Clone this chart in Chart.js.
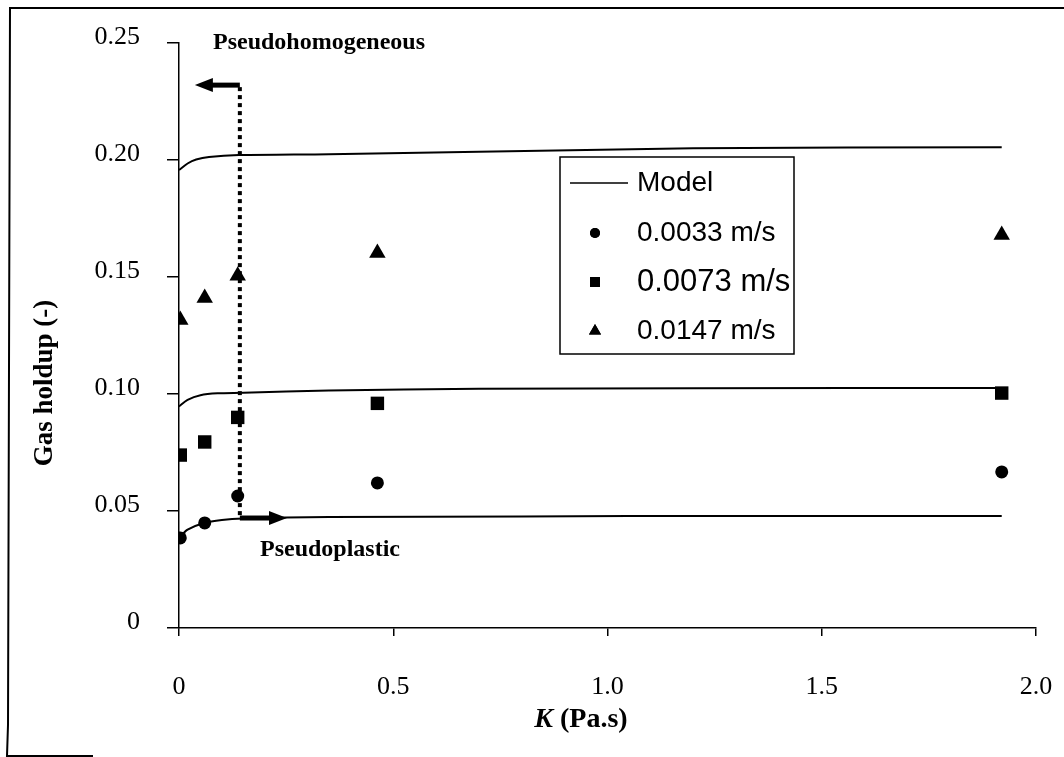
<!DOCTYPE html>
<html>
<head>
<meta charset="utf-8">
<script src="https://cdn.jsdelivr.net/npm/chart.js@4.4.1/dist/chart.umd.min.js"></script>
<style>
    html, body { margin: 0; padding: 0; background: #fff; }
    #wrap { width: 1064px; height: 757px; }
</style>
</head>
<body>
<div id="wrap"><canvas id="chart" width="1064" height="757"></canvas></div>
<script>
// Tick labels
const xTickLabels = ['0', '0.5', '1.0', '1.5', '2.0'];
const yTickLabels = ['0', '0.05', '0.10', '0.15', '0.20', '0.25'];

// Measured points (K in Pa.s, gas holdup)
const kMeasured = [0.003, 0.06, 0.137, 0.463, 1.92];
const holdup0033 = [0.0385, 0.0449, 0.0564, 0.0620, 0.0667];
const holdup0073 = [0.0739, 0.0795, 0.0900, 0.0960, 0.1004];
const holdup0147 = [0.1316, 0.1410, 0.1505, 0.1603, 0.1680];

// Model curves
const kModelLow = [0, 0.02, 0.058, 0.1, 0.15, 0.35, 0.8, 1.3, 1.92];
const modelLow = [0.0385, 0.0420, 0.0449, 0.0462, 0.0468, 0.0474, 0.0477, 0.0479, 0.0479];
const kModelMid = [0, 0.02, 0.05, 0.09, 0.15, 0.35, 0.7, 1.2, 1.92];
const modelMid = [0.0947, 0.0975, 0.0995, 0.1003, 0.1005, 0.1015, 0.1022, 0.1025, 0.1026];
const kModelHigh = [0, 0.02, 0.04, 0.07, 0.14, 0.35, 0.7, 1.2, 1.92];
const modelHigh = [0.1957, 0.1985, 0.2002, 0.2013, 0.2021, 0.2025, 0.2035, 0.2050, 0.2055];

// Regime boundary annotation (data units)
const boundaryK = 0.142;
const boundaryTop = 0.232;
const boundaryBottom = 0.047;
const homogArrowTipK = 0.037;
const plasticArrowTipK = 0.252;

const legendLabels = ['Model', '0.0033 m/s', '0.0073 m/s', '0.0147 m/s'];

const serif = "'Liberation Serif', 'Times New Roman', serif";
const sans = "'Liberation Sans', Arial, sans-serif";

const toXY = (xs, ys) => xs.map((x, i) => ({ x: x, y: ys[i] }));

function modelSet(xs, ys) {
    return {
        label: 'Model', type: 'line', data: toXY(xs, ys),
        borderColor: '#000', borderWidth: 2, pointRadius: 0,
        tension: 0.3, fill: false
    };
}

function pointSet(label, ys, style, radius) {
    return {
        label: label, type: 'scatter', data: toXY(kMeasured, ys),
        pointStyle: style, pointRadius: radius, pointHoverRadius: radius,
        backgroundColor: '#000', borderColor: '#000', borderWidth: 0,
        showLine: false
    };
}

// Frame, annotations, axis titles, legend
const extrasPlugin = {
    id: 'extras',
    beforeDraw(chart) {
        const ctx = chart.ctx;
        ctx.save();
        ctx.fillStyle = '#fff';
        ctx.fillRect(0, 0, chart.width, chart.height);
        ctx.strokeStyle = '#000';
        ctx.lineWidth = 2;
        ctx.beginPath();
        ctx.moveTo(1064, 8);
        ctx.lineTo(10, 8);
        ctx.lineTo(8, 725);
        ctx.lineTo(7, 756);
        ctx.lineTo(93, 756);
        ctx.stroke();
        ctx.restore();
    },
    beforeDatasetsDraw(chart) {
        const ctx = chart.ctx;
        const xs = chart.scales.x, ys = chart.scales.y;
        const bx = xs.getPixelForValue(boundaryK);
        const topY = ys.getPixelForValue(boundaryTop);
        const botY = ys.getPixelForValue(boundaryBottom);
        ctx.save();
        ctx.strokeStyle = '#000';
        ctx.fillStyle = '#000';
        // dotted boundary
        ctx.lineWidth = 4;
        ctx.setLineDash([4, 4]);
        ctx.beginPath();
        ctx.moveTo(bx, topY + 2);
        ctx.lineTo(bx, botY);
        ctx.stroke();
        ctx.setLineDash([]);
        // arrows
        function arrow(x0, y, x1) {
            const dir = Math.sign(x1 - x0);
            const headLen = 18;
            ctx.lineWidth = 5;
            ctx.beginPath();
            ctx.moveTo(x0, y);
            ctx.lineTo(x1 - dir * headLen + dir * 2, y);
            ctx.stroke();
            ctx.beginPath();
            ctx.moveTo(x1, y);
            ctx.lineTo(x1 - dir * headLen, y - 7);
            ctx.lineTo(x1 - dir * headLen, y + 7);
            ctx.closePath();
            ctx.fill();
        }
        arrow(bx, topY, xs.getPixelForValue(homogArrowTipK));
        arrow(bx, botY, xs.getPixelForValue(plasticArrowTipK));

        // region labels
        ctx.font = 'bold 24px ' + serif;
        ctx.textBaseline = 'alphabetic';
        ctx.textAlign = 'left';
        ctx.fillText('Pseudohomogeneous', 213, 49);
        ctx.fillText('Pseudoplastic', 260, 556);
        ctx.restore();
    },
    afterDraw(chart) {
        const ctx = chart.ctx;
        ctx.save();
        ctx.fillStyle = '#000';
        ctx.strokeStyle = '#000';

        // y title
        ctx.font = 'bold 27px ' + serif;
        ctx.textAlign = 'center';
        ctx.textBaseline = 'middle';
        ctx.translate(45, 383);
        ctx.rotate(-Math.PI / 2);
        ctx.fillText('Gas holdup (-)', 0, 0);
        ctx.setTransform(1, 0, 0, 1, 0, 0);

        // x title: italic K + (Pa.s)
        ctx.textAlign = 'left';
        ctx.textBaseline = 'alphabetic';
        ctx.font = 'bold italic 28px ' + serif;
        const kW = ctx.measureText('K').width;
        ctx.font = 'bold 28px ' + serif;
        const restW = ctx.measureText(' (Pa.s)').width;
        const startX = 581 - (kW + restW) / 2;
        ctx.font = 'bold italic 28px ' + serif;
        ctx.fillText('K', startX, 727);
        ctx.font = 'bold 28px ' + serif;
        ctx.fillText(' (Pa.s)', startX + kW, 727);

        // legend box
        const lx = 560, ly = 157, lw = 234, lh = 197;
        ctx.fillStyle = '#fff';
        ctx.fillRect(lx, ly, lw, lh);
        ctx.lineWidth = 1.5;
        ctx.strokeRect(lx, ly, lw, lh);
        ctx.fillStyle = '#000';
        const rows = [183, 233, 282, 331];
        ctx.beginPath();
        ctx.moveTo(570, rows[0]);
        ctx.lineTo(628, rows[0]);
        ctx.stroke();
        const styles = ['circle', 'rect', 'triangle'];
        const sizes = [5, 7, 7];
        styles.forEach((s, i) => {
            Chart.helpers.drawPoint(ctx, { pointStyle: s, radius: sizes[i], borderWidth: 0 }, 595, rows[i + 1]);
            ctx.fill();
        });
        ctx.textBaseline = 'middle';
        ctx.textAlign = 'left';
        legendLabels.forEach((t, i) => {
            ctx.font = (i === 2 ? '31px ' : '28px ') + sans;
            ctx.fillText(t, 637, rows[i]);
        });
        ctx.restore();
    }
};

const ctx = document.getElementById('chart').getContext('2d');
new Chart(ctx, {
    type: 'scatter',
    data: {
        datasets: [
            modelSet(kModelLow, modelLow),
            modelSet(kModelMid, modelMid),
            modelSet(kModelHigh, modelHigh),
            pointSet('0.0033 m/s', holdup0033, 'circle', 6.5),
            pointSet('0.0073 m/s', holdup0073, 'rect', 9.5),
            pointSet('0.0147 m/s', holdup0147, 'triangle', 9.5)
        ]
    },
    options: {
        responsive: false,
        animation: false,
        devicePixelRatio: 1,
        layout: { padding: { top: 43, right: 28, bottom: 0, left: 0 } },
        plugins: {
            legend: { display: false },
            tooltip: { enabled: false }
        },
        scales: {
            x: {
                type: 'linear', min: 0, max: 2.0,
                afterFit: s => {
                    s.height = 129;
                    // tick padding inflates the side padding; labels fit inside the right margin anyway
                    s.paddingLeft = 0;
                    s.paddingRight = 0;
                },
                afterBuildTicks: s => { s.ticks = xTickLabels.map(v => ({ value: parseFloat(v) })); },
                grid: { drawOnChartArea: false, drawTicks: true, tickLength: 8, color: '#000', lineWidth: 1.5 },
                border: { color: '#000', width: 1.5 },
                ticks: {
                    color: '#000', padding: 36, maxRotation: 0,
                    font: { family: serif, size: 26 },
                    callback: (v, i) => xTickLabels[i]
                }
            },
            y: {
                type: 'linear', min: 0, max: 0.25,
                afterFit: s => { s.width = 179; },
                afterBuildTicks: s => { s.ticks = yTickLabels.map(v => ({ value: parseFloat(v) })); },
                grid: { drawOnChartArea: false, drawTicks: true, tickLength: 12, color: '#000', lineWidth: 1.5 },
                border: { color: '#000', width: 1.5 },
                ticks: {
                    color: '#000', padding: 27, labelOffset: -6,
                    font: { family: serif, size: 26 },
                    callback: (v, i) => yTickLabels[i]
                }
            }
        }
    },
    plugins: [extrasPlugin]
});
</script>
</body>
</html>
